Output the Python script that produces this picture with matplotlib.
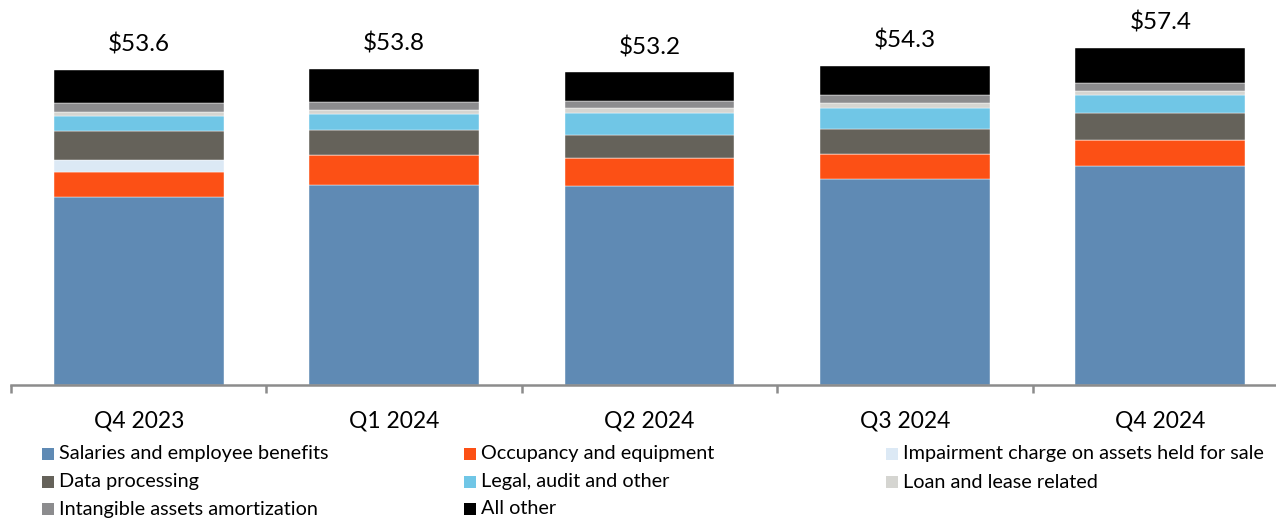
import matplotlib
matplotlib.use("Agg")
import matplotlib.pyplot as plt
from matplotlib.patches import Rectangle

# Datos (miles de millones de USD)
quarters = ["Q4 2023", "Q1 2024", "Q2 2024", "Q3 2024", "Q4 2024"]
totals = [53.6, 53.8, 53.2, 54.3, 57.4]

salaries = [32.0, 34.0, 33.9, 35.0, 37.3]
occupancy = [4.3, 5.2, 4.7, 4.3, 4.4]
impairment = [2.0, 0.0, 0.0, 0.0, 0.0]
data_processing = [5.0, 4.2, 4.0, 4.25, 4.5]
legal = [2.4, 2.7, 3.7, 3.6, 3.2]
loan_lease = [0.7, 0.7, 0.8, 0.75, 0.7]
intangible = [1.5, 1.4, 1.3, 1.4, 1.3]
all_other = [5.7, 5.6, 4.8, 5.0, 6.0]

series = [
    ("Salaries and employee benefits", salaries, "#5F8AB4"),
    ("Occupancy and equipment", occupancy, "#FC5015"),
    ("Impairment charge on assets held for sale", impairment, "#DCE9F5"),
    ("Data processing", data_processing, "#65625A"),
    ("Legal, audit and other", legal, "#70C6E6"),
    ("Loan and lease related", loan_lease, "#D5D5D1"),
    ("Intangible assets amortization", intangible, "#8C8C8E"),
    ("All other", all_other, "#000000"),
]

FONT = "Lato"
W, H = 1276, 522

fig = plt.figure(figsize=(W / 100, H / 100), dpi=100)
# eje: de x=11 a x=1288 px, base en y=385 px
ax = fig.add_axes([11 / W, (H - 385) / H, 1277 / W, 385 / H])

x = list(range(len(quarters)))
bottom = [0.0] * len(quarters)
for name, vals, color in series:
    ax.bar(x, vals, width=0.665, bottom=bottom, color=color,
           edgecolor="white", linewidth=0.3)
    bottom = [b + v for b, v in zip(bottom, vals)]

# Totales sobre cada barra
for xi, top, tot in zip(x, bottom, totals):
    ax.annotate(f"${tot:.1f}", (xi, top), xytext=(0, 18), textcoords="offset points",
                ha="center", va="center", fontsize=17.5, family=FONT, color="black")

ax.set_xlim(-0.5, 4.5)
ax.set_ylim(0, 385 / 5.877)

for s in ["top", "right", "left"]:
    ax.spines[s].set_visible(False)
ax.spines["bottom"].set_color("#8C8C8C")
ax.spines["bottom"].set_linewidth(1.8)
ax.set_yticks([])

ax.set_xticks([i - 0.5 for i in range(len(quarters) + 1)])
ax.set_xticklabels([])
ax.tick_params(axis="x", which="major", length=6, width=1.8, color="#8C8C8C")
ax.set_xticks(x, minor=True)
ax.set_xticklabels(quarters, minor=True, fontsize=16.5, family=FONT)
ax.tick_params(axis="x", which="minor", length=0, pad=18.5)

# Leyenda manual, 3 columnas por filas
col_x = [42, 464, 886]
row_y = [454, 482, 509]
for i, (name, vals, color) in enumerate(series):
    cx = col_x[i % 3]
    cy = row_y[i // 3]
    fig.patches.append(Rectangle((cx / W, (H - cy - 6) / H), 12 / W, 12 / H,
                                 transform=fig.transFigure, facecolor=color,
                                 edgecolor="none", figure=fig))
    fig.text((cx + 17) / W, (H - cy) / H, name, ha="left", va="center",
             fontsize=14.3, family=FONT, color="black")

fig.savefig("out.png", dpi=100)
